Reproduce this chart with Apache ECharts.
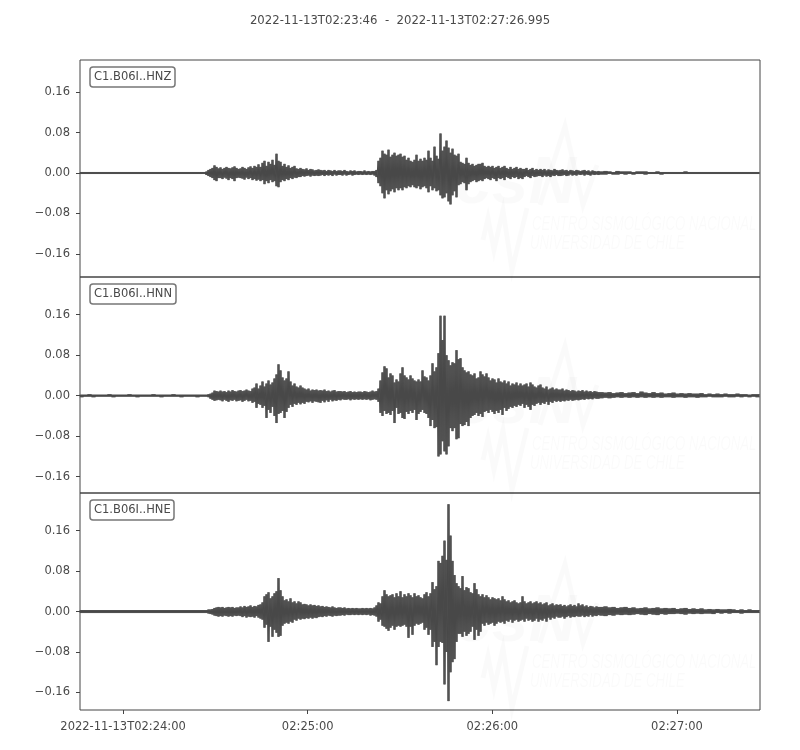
<!DOCTYPE html>
<html>
<head>
<meta charset="utf-8">
<style>html,body{margin:0;padding:0;background:#fff}#c{width:800px;height:750px}</style>
<script src="https://cdn.jsdelivr.net/npm/echarts@6/dist/echarts.min.js"></script>
</head>
<body>
<div id="c"></div>
<script>
// Chart text and axis ticks
const chartTitle = '2022-11-13T02:23:46  -  2022-11-13T02:27:26.995';
const channels = ['C1.B06I..HNZ', 'C1.B06I..HNN', 'C1.B06I..HNE'];
const xTickSeconds = [14, 74, 134, 194];               // seconds after 02:23:46
const xTickLabels = ['2022-11-13T02:24:00', '02:25:00', '02:26:00', '02:27:00'];
const yTickValues = [-0.16, -0.08, 0, 0.08, 0.16];
const yTickLabels = ['\u22120.16', '\u22120.08', '0.00', '0.08', '0.16'];
const windowSeconds = 220.995;
const yMaxima = [0.2233, 0.2346, 0.2342];
const yMinima = [-0.2055, -0.1923, -0.1946];

// Trace envelopes, in thousandths of the axis unit.
// Each entry is one column of the trace: its peak above and its depth below zero.
// Columns: 30 of 1.3 s, then 200 of 0.65 s, then 40 of 1.3 s.
const quietColumns = 30, activeColumns = 200, tailColumns = 40;

const hnzUpper = [
 2,2,2,2,2,2,2,2,2,2,2,2,2,2,2,2,2,2,2,2,2,2,2,2,2,2,2,2,2,2,
 2,2,2,3,6,8,10,15,12,9, 11,8,10,12,10,9,11,13,10,8, 9,12,10,8,11,13,10,14,12,17,
 12,20,24,14,22,18,26,16,38,24, 22,14,18,12,15,10,12,14,9,8, 10,8,7,9,6,8,7,5,6,7,
 6,5,6,4,6,5,4,6,4,5, 5,4,6,4,3,5,4,5,3,4, 4,3,5,3,4,3,4,4,6,24,
 30,44,38,36,46,32,36,40,34,36, 38,32,34,26,30,24,22,26,36,24, 28,24,30,26,44,30,24,52,34,28,
 78,44,52,64,50,40,48,36,34,38, 22,20,18,30,20,16,18,14,16,18, 18,20,14,12,14,12,14,10,12,14,
 10,12,14,10,8,12,8,10,12,8, 10,8,8,10,6,8,10,6,8,6, 8,6,8,5,7,6,5,8,6,5,
 6,7,5,6,4,6,5,4,6,5, 4,5,6,4,5,3,5,4,3,4,
 3,4,3,2,4,3,3,3,2,3, 3,3,2,2,3,2,2,2,2,2, 2,3,2,2,2,2,2,2,2,2, 2,2,2,2,2,2,2,2,2,2];
const hnzDepth = [
 2,2,2,2,2,2,2,2,2,2,2,2,2,2,2,2,2,2,2,2,2,2,2,2,2,2,2,2,2,2,
 2,2,2,4,6,8,10,14,16,10, 10,12,9,11,14,10,12,16,10,9, 10,11,13,9,12,10,14,12,15,13,
 16,14,22,16,20,14,18,16,26,28, 18,14,16,12,14,10,12,9,10,8, 8,6,7,6,5,7,5,6,5,6,
 5,4,6,4,5,4,6,3,5,4, 4,5,3,5,4,3,5,4,3,4, 3,4,3,4,3,4,3,5,8,20,
 26,40,50,34,42,36,32,38,30,34, 30,34,28,30,26,28,24,28,30,26, 32,28,26,30,38,26,34,30,36,34,
 44,50,48,40,56,62,44,36,48,24, 22,18,20,34,22,18,16,14,18,16, 14,16,12,10,12,14,10,12,16,10,
 12,10,14,8,10,12,8,10,8,12, 10,12,8,6,8,10,6,8,7,6, 6,8,5,7,6,8,5,6,4,6,
 6,5,4,6,5,3,5,4,5,3, 4,3,5,3,4,5,3,4,3,4,
 3,3,2,3,3,2,3,2,3,2, 2,3,2,2,2,3,2,2,2,2, 2,2,2,2,2,2,2,2,2,2, 2,2,2,2,2,2,2,2,2,2];

const hnnUpper = [
 2,2,3,2,2,2,2,3,2,2,2,2,3,2,2,2,2,2,3,2,2,2,2,3,2,2,2,2,2,2,
 2,2,2,2,3,4,6,10,9,8, 10,8,9,7,10,8,11,9,8,10, 11,9,10,12,10,9,14,16,24,14,
 20,28,18,24,30,22,26,34,42,62, 50,36,30,34,48,28,20,24,18,16, 20,16,14,12,14,10,12,11,12,10,
 11,10,12,9,10,8,10,11,8,9, 9,8,9,7,8,9,7,8,7,8, 8,7,9,8,7,8,10,8,9,14,
 30,46,58,54,36,44,40,26,32,28, 44,56,40,36,32,40,34,30,28,32, 28,50,38,36,30,40,64,48,56,84,
 158,110,158,80,70,60,66,64,90,72, 74,56,50,46,48,42,40,44,34,36, 48,42,38,44,36,30,34,32,26,34,
 28,26,30,24,28,20,24,22,26,20, 24,20,22,24,18,26,22,18,16,20, 22,16,14,18,12,14,16,12,14,12,
 12,14,10,12,11,9,11,10,8,10, 9,11,8,10,8,9,7,9,8,7,
 7,6,7,5,6,7,5,6,7,5, 8,6,5,7,5,6,4,5,6,4, 5,4,5,4,4,5,3,4,3,4, 3,4,3,3,4,3,3,2,3,3];
const hnnDepth = [
 3,2,2,3,2,2,2,2,3,2,2,2,2,2,3,2,2,2,2,2,3,2,2,2,2,3,2,2,2,3,
 2,2,2,2,3,6,8,10,9,8, 9,11,8,10,12,9,10,8,11,10, 9,12,10,8,11,10,14,12,24,16,
 18,24,20,44,28,34,22,40,54,36, 34,30,44,32,24,18,22,16,18,14, 17,14,16,12,13,11,14,11,12,13,
 14,10,13,9,12,8,11,9,10,8, 9,7,8,8,7,9,7,8,7,8, 7,8,7,8,7,9,8,7,8,12,
 34,40,30,36,34,38,30,54,24,36, 34,44,46,32,36,30,34,28,48,36, 32,28,34,36,44,60,48,64,62,120,
 116,90,110,116,100,64,70,64,86,84, 56,60,58,52,60,44,40,38,34,40, 36,42,32,30,34,28,32,36,30,34,
 28,38,24,30,26,22,24,20,22,18, 20,16,24,18,22,28,18,20,16,14, 18,14,16,12,18,12,14,10,12,10,
 12,10,11,9,10,8,10,9,8,9, 8,7,8,6,7,6,7,5,6,6,
 5,4,5,4,3,4,3,4,3,4, 3,4,3,4,3,4,3,3,4,3, 3,4,3,3,4,3,3,2,3,3, 3,2,3,3,2,3,2,3,2,3];

const hneUpper = [
 3,3,3,3,3,3,3,3,3,3,3,3,3,3,3,3,3,3,3,3,3,3,3,3,3,3,3,3,3,3,
 3,3,3,3,4,4,5,7,8,9, 8,9,7,8,9,8,9,7,8,8, 10,8,11,9,10,12,9,11,10,13,
 14,18,30,34,38,26,30,36,40,66, 42,30,22,24,20,26,18,20,16,20, 18,14,15,14,12,14,12,13,11,12,
 10,11,9,10,9,8,10,8,7,8, 8,7,8,6,7,6,7,6,7,6, 6,7,6,7,6,7,6,8,12,18,
 16,30,42,34,30,32,34,28,36,30, 40,28,34,30,36,32,28,36,30,32, 28,26,34,38,30,36,58,44,50,100,
 96,110,140,102,212,150,100,72,56,50, 46,70,42,48,46,38,36,56,44,34, 30,34,28,32,28,24,28,26,24,26,
 22,30,24,20,22,18,20,22,18,16, 18,30,20,16,18,20,16,18,20,16, 18,14,16,18,12,14,16,12,14,13,
 14,11,13,10,12,14,11,13,10,16, 12,14,10,12,9,11,10,8,10,9,
 9,10,8,9,7,8,9,7,8,6, 7,8,6,7,8,6,7,6,7,5, 6,7,5,6,5,6,4,5,4,5, 4,4,5,4,3,4,3,4,3,3];
const hneDepth = [
 3,3,3,3,3,3,3,3,3,3,3,3,3,3,3,3,3,3,3,3,3,3,3,3,3,3,3,3,3,3,
 3,3,3,3,4,5,6,8,9,10, 9,10,8,9,10,9,10,8,9,8, 9,11,9,12,10,11,10,12,9,12,
 14,16,32,26,60,30,50,36,42,50, 48,28,24,22,24,20,22,16,18,14, 16,14,15,13,14,12,14,12,13,11,
 10,11,9,10,8,9,10,8,9,8, 8,7,8,6,7,7,6,7,6,7, 6,7,6,7,6,8,7,8,10,20,
 16,28,30,34,38,32,28,36,30,28, 30,28,26,30,52,30,46,28,24,26, 24,22,36,32,46,36,70,60,106,70,
 60,62,144,80,177,120,100,94,60,44, 44,50,40,48,44,40,30,56,36,48, 40,24,28,22,26,24,22,28,24,20,
 22,20,24,18,20,16,22,18,16,20, 18,16,20,14,18,16,20,18,14,20, 16,18,14,20,12,16,12,14,10,12,
 12,10,14,11,9,12,10,11,9,10, 10,8,11,9,10,7,10,8,9,7,
 8,9,7,8,6,7,6,7,6,5, 6,7,5,6,7,5,6,5,5,4, 5,6,4,5,4,5,4,4,5,3, 4,3,4,3,3,4,3,3,3,3];

const uppers = [hnzUpper, hnnUpper, hneUpper];
const depths = [hnzDepth, hnnDepth, hneDepth];

function columnSeconds(i) {
  if (i < quietColumns) return i * 1.3;
  if (i < quietColumns + activeColumns) return 39 + (i - quietColumns) * 0.65;
  return 169 + (i - quietColumns - activeColumns) * 1.3;
}
function traceOf(up, down) {
  // Each column swings between its peak and its depth; a second pass in
  // opposite phase closes the gaps so the dense trace reads as solid ink.
  const forward = [], back = [];
  for (let i = 0; i < up.length; i++) {
    const t = columnSeconds(i);
    const wide = i < quietColumns || i >= quietColumns + activeColumns;
    const swings = wide ? 2 : 1;
    for (let s = 0; s < swings; s++) {
      const a = t + s * 0.65;
      const b = a + 0.325;
      forward.push([Math.min(a, windowSeconds), up[i] / 1000]);
      forward.push([Math.min(b, windowSeconds), -down[i] / 1000]);
      back.push([Math.min(a, windowSeconds), -down[i] / 1000]);
      back.push([Math.min(b, windowSeconds), up[i] / 1000]);
    }
  }
  return forward.concat(back.reverse());
}

const INK = '#4a4a4a';
const FONT = '"DejaVu Sans"';
const gridBoxes = [{ top: 60, height: 217 }, { top: 277, height: 216 }, { top: 493, height: 217 }];
const labelTops = [67, 284, 500];
const watermarkShifts = [0, 220, 438];

const grids = [], xAxes = [], yAxes = [], series = [], titles = [];
titles.push({
  text: chartTitle, left: 'center', top: 15, padding: 0,
  textStyle: { fontFamily: FONT, fontSize: 11.7, fontWeight: 'normal', color: INK }
});
channels.forEach((name, k) => {
  grids.push({ left: 80, width: 680, top: gridBoxes[k].top, height: gridBoxes[k].height,
    show: true, borderColor: '#444444', borderWidth: 1, backgroundColor: 'transparent' });
  const last = k === channels.length - 1;
  xAxes.push({
    type: 'value', gridIndex: k, min: 0, max: windowSeconds, position: 'bottom',
    splitLine: { show: false }, axisLine: { show: false, onZero: false },
    axisTick: { show: last, customValues: xTickSeconds, length: 4, lineStyle: { color: '#444444' } },
    axisLabel: { show: last, customValues: xTickSeconds, margin: 11,
      fontFamily: FONT, fontSize: 11.5, color: INK,
      formatter: v => xTickLabels[xTickSeconds.indexOf(v)] || '' }
  });
  yAxes.push({
    type: 'value', gridIndex: k, min: yMinima[k], max: yMaxima[k],
    splitLine: { show: false }, axisLine: { show: false, onZero: false },
    axisTick: { show: true, customValues: yTickValues, length: 4, lineStyle: { color: '#444444' } },
    axisLabel: { customValues: yTickValues, margin: 10,
      fontFamily: FONT, fontSize: 11.5, color: INK,
      formatter: v => yTickLabels[yTickValues.indexOf(v)] || '' }
  });
  series.push({
    name, type: 'line', xAxisIndex: k, yAxisIndex: k,
    data: traceOf(uppers[k], depths[k]),
    showSymbol: false, symbol: 'none', sampling: false, smooth: false, clip: true, silent: true,
    lineStyle: { color: '#484848', width: 1, join: 'bevel' }, animation: false
  });
  titles.push({
    text: name, left: 90, top: labelTops[k], padding: [3, 4, 3, 4],
    borderColor: '#777777', borderWidth: 1.5, borderRadius: 3, backgroundColor: '#fff',
    textStyle: { fontFamily: FONT, fontSize: 11.5, fontWeight: 'normal', color: INK, lineHeight: 14 }
  });
});

// Faint institutional watermark over each panel
const WM = 'rgba(0,0,0,0.02)';
const WMFONT = 'italic 20px "Liberation Sans"';
const graphics = watermarkShifts.map(dy => ({
  type: 'group', silent: true, z: 10, y: dy, children: [
    { type: 'text', x: 455, y: 152, style: { text: 'csN', fill: WM,
      font: 'italic bold 66px "Liberation Sans"' } },
    { type: 'polyline', shape: { points: [[540, 205], [565, 126], [583, 205], [597, 165]] },
      style: { stroke: WM, fill: null, lineWidth: 5 } },
    { type: 'polyline', shape: { points: [[483, 240], [488, 218], [494, 250], [503, 210], [512, 270], [527, 208]] },
      style: { stroke: WM, fill: null, lineWidth: 5 } },
    { type: 'text', x: 532, y: 214, scaleX: 0.66, originX: 0, style: { text: 'CENTRO SISMOLÓGICO NACIONAL', fill: WM, font: WMFONT } },
    { type: 'text', x: 530, y: 233, scaleX: 0.66, originX: 0, style: { text: 'UNIVERSIDAD DE CHILE', fill: WM, font: WMFONT } }
  ]
}));

const chart = echarts.init(document.getElementById('c'), null, { renderer: 'canvas' });
chart.setOption({
  animation: false, backgroundColor: '#fff',
  title: titles, grid: grids, xAxis: xAxes, yAxis: yAxes, series, graphic: graphics, tooltip: { show: false }
});
</script>
</body>
</html>
